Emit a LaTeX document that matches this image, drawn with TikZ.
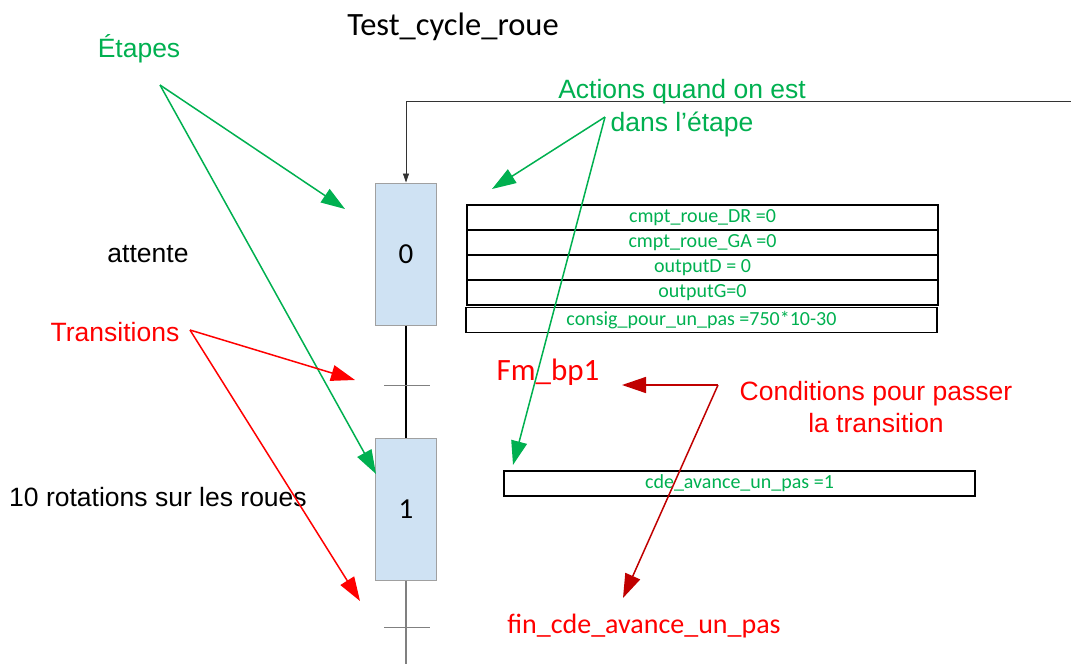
\documentclass[tikz,border=0pt]{standalone}
\usepackage{fontspec}
\newfontfamily\arial{Liberation Sans}
\newfontfamily\calibri{Carlito}
\usetikzlibrary{arrows.meta}
\definecolor{grn}{HTML}{00B050}
\definecolor{rd}{HTML}{FF0000}
\definecolor{drd}{HTML}{C00000}
\definecolor{stepfill}{HTML}{CFE2F3}
\definecolor{stepline}{HTML}{A0A0A0}
\tikzset{
  stepbox/.style={draw=stepline, fill=stepfill, line width=1pt, minimum width=61pt, minimum height=142pt, inner sep=0pt, font=\calibri\fontsize{29}{29}\selectfont},
  actbox/.style={draw=black, line width=1.5pt, minimum width=471pt, minimum height=25pt, inner sep=0pt, text=grn, font=\calibri\fontsize{20}{20}\selectfont},
  lbl/.style={font=\arial\fontsize{26.5}{26.5}\selectfont, inner sep=0pt},
  clbl/.style={font=\calibri\fontsize{28}{28}\selectfont, inner sep=0pt},
  garrow/.style={draw=grn, line width=1.5pt, -{Triangle[length=24pt,width=16pt]}},
  rarrow/.style={draw=rd, line width=1.5pt, -{Triangle[length=24pt,width=16pt]}},
  darrow/.style={draw=drd, line width=1.5pt, -{Triangle[length=24pt,width=16pt]}},
  trbar/.style={draw=gray, line width=1pt},
}
\begin{document}
\begin{tikzpicture}[x=1pt,y=-1pt]
\useasboundingbox (0,0) rectangle (1071,664);
% title
\node[clbl, font=\calibri\fontsize{32.5}{32.5}\selectfont] (title) at (453,27) {Test\_cycle\_roue};
% steps
\node[stepbox] (s0) at (406,254) {0};
\node[stepbox] (s1) at (406,509) {1};
% feedback line
\coordinate (fbR) at (1071,101);
\coordinate (fbL) at (406,101);
\draw[black!80, line width=0.8pt, -{Triangle[length=9pt,width=6pt]}] (fbR) -- (fbL) -- (s0.north);
% links
\draw[black, line width=1.5pt] (s0.south) -- (s1.north);
\coordinate (t1) at (406,385);
\draw[trbar] ([xshift=-22pt]t1) coordinate (t1l) -- ([xshift=24pt]t1) coordinate (t1r);
\coordinate (bot) at (406,664);
\draw[gray, line width=1.5pt] (s1.south) -- (bot);
\coordinate (t2) at (406,627);
\draw[trbar] ([xshift=-22pt]t2) coordinate (t2l) -- ([xshift=24pt]t2) coordinate (t2r);
% action boxes step 0
\node[actbox] (a1) at (702.5,217.5) {cmpt\_roue\_DR =0};
\node[actbox] (a2) at (702.5,242.5) {cmpt\_roue\_GA =0};
\node[actbox] (a3) at (702.5,267.5) {outputD = 0};
\node[actbox] (a4) at (702.5,292.5) {outputG=0};
\node[actbox] (a5) at (701.5,320) {consig\_pour\_un\_pas =750*10-30};
% action box step 1
\node[actbox] (b1) at (739.5,483.5) {cde\_avance\_un\_pas =1};
% side labels
\node[lbl] (att) at (148,254) {attente};
\node[lbl] (rot) at (158,497) {10 rotations sur les roues};
% Etapes
\node[lbl, text=grn] (etapes) at (139,49) {Étapes};
\coordinate (eS) at (160,85);
\draw[garrow] (eS) -- (345,209);
\draw[garrow] (eS) -- (376,474);
% Actions
\node[lbl, text=grn, align=center] (actions) at (682,108) {Actions quand on est\\[6pt]dans l’étape};
\coordinate (aS) at (605,117);
\draw[garrow] (aS) -- (492,189);
\draw[garrow] (aS) -- (513,465);
% Transitions
\node[lbl, text=rd] (trans) at (115,332) {Transitions};
\coordinate (tS) at (190,330);
\draw[rarrow] (tS) -- (355,380);
\draw[rarrow] (tS) -- (360,601);
% Conditions
\node[clbl, text=rd, font=\calibri\fontsize{31}{31}\selectfont] (fm) at (548,372) {Fm\_bp1};
\node[clbl, text=rd] (fin) at (644,626) {fin\_cde\_avance\_un\_pas};
\node[lbl, text=rd, align=center] (cond) at (876,407) {Conditions pour passer\\[6pt]la transition};
\coordinate (cS) at (718,385);
\draw[darrow] (cS) -- (622,385);
\draw[darrow] (cS) -- (623,598);
\end{tikzpicture}
\end{document}
